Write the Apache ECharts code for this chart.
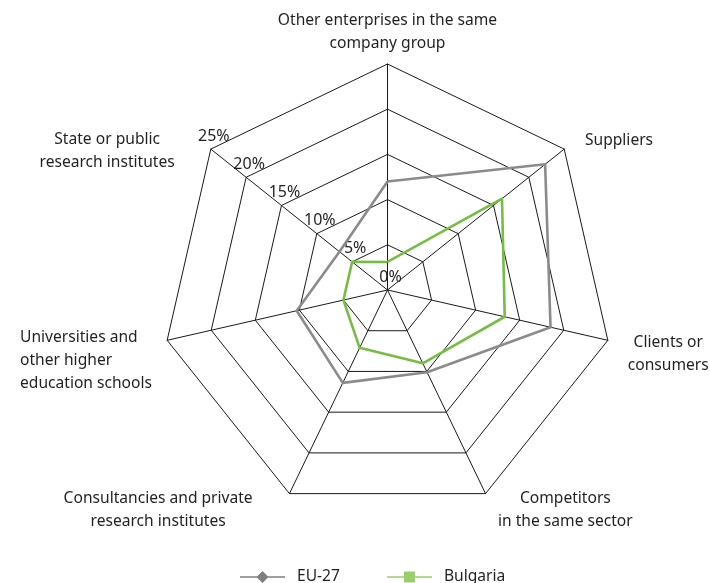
<!DOCTYPE html>
<html><head><meta charset="utf-8">
<script src="https://cdn.jsdelivr.net/npm/echarts@6/dist/echarts.min.js"></script>
<style>html,body{margin:0;padding:0;background:#fff}#c{width:710px;height:583px}</style>
</head><body><div id="c"></div>
<script>
// ---- data (indicators listed counter-clockwise from the top, as ECharts lays them out) ----
const categories = [
  'Other enterprises in the same\ncompany group',
  'State or public\nresearch institutes',
  'Universities and\nother higher\neducation schools',
  'Consultancies and private\nresearch institutes',
  'Competitors\nin the same sector',
  'Clients or\nconsumers',
  'Suppliers'
];
const eu27Values = [12.0, 6.8, 10.3, 11.4, 10.1, 18.5, 22.3];
const bulgariaValues = [3.1, 5.0, 5.0, 7.1, 9.0, 13.3, 16.2];
const seriesNames = ['EU-27', 'Bulgaria'];
const axisMin = 0;
const axisMax = 25;
const tickStep = 5;

// ---- layout / style ----
const FONT = 'Noto Sans';
const FS = 15.6;
const TEXT = '#231f20';
const nameLayout = [
  { gap: 9,   align: 'center', verticalAlign: 'bottom', padding: [0, 0, 0, 0] },
  { gap: -3,  align: 'center', verticalAlign: 'middle', padding: [0, 212, 0, 0] },
  { gap: 93,  align: 'left',   verticalAlign: 'middle', padding: [0, 0, 0, -56.5] },
  { gap: 18,  align: 'center', verticalAlign: 'middle', padding: [0, 247, 0, 0] },
  { gap: 18,  align: 'center', verticalAlign: 'middle', padding: [0, 0, 0, 144] },
  { gap: 62,  align: 'center', verticalAlign: 'middle', padding: [0, 0, 0, 0] },
  { gap: 13,  align: 'left',   verticalAlign: 'middle', padding: [0, 0, 0, 10.6] }
];
const labelAxisIndex = 1; // State or public research institutes

const indicator = categories.map((name, i) => {
  const o = {
    name: name,
    min: axisMin,
    max: axisMax,
    nameGap: nameLayout[i].gap,
    nameMoveOverlap: false,
    nameTextStyle: {
      align: nameLayout[i].align,
      verticalAlign: nameLayout[i].verticalAlign,
      padding: nameLayout[i].padding,
      fontFamily: FONT, fontSize: FS, lineHeight: 23, color: TEXT
    }
  };
  if (i === labelAxisIndex) {
    o.axisLabel = {
      show: true, margin: 0, align: 'center', verticalAlign: 'bottom',
      padding: [0, 0, 5, 6], formatter: '{value}%',
      fontFamily: FONT, fontSize: 16, color: TEXT
    };
  }
  return o;
});

const colors = { eu: '#8b8b8d', bg: '#76bd43', euLegend: '#7f7f81', bgLegend: '#98cf6a' };
const iconEU = 'path://M0,5.3 L45,5.3 L45,6.7 L0,6.7 Z M22.5,0 L28.5,6 L22.5,12 L16.5,6 Z';
const iconBG = 'path://M0,5.3 L45,5.3 L45,6.7 L0,6.7 Z M17,0.5 L28,0.5 L28,11.5 L17,11.5 Z';

const chart = echarts.init(document.getElementById('c'), null, { renderer: 'canvas' });
chart.setOption({
  animation: false,
  backgroundColor: '#fff',
  textStyle: { fontFamily: FONT },
  legend: {
    left: 240, top: 569, padding: 0,
    itemWidth: 45, itemHeight: 12, itemGap: 47,
    textStyle: { fontFamily: FONT, fontSize: FS, color: TEXT, padding: [0, 0, 0, 7] },
    data: [
      { name: seriesNames[0], icon: iconEU, itemStyle: { color: colors.euLegend } },
      { name: seriesNames[1], icon: iconBG, itemStyle: { color: colors.bgLegend } }
    ]
  },
  radar: {
    center: [387.5, 290],
    radius: 226,
    startAngle: 90,
    shape: 'polygon',
    splitNumber: (axisMax - axisMin) / tickStep,
    indicator: indicator,
    axisName: { color: TEXT, fontFamily: FONT, fontSize: FS },
    axisLine: { lineStyle: { color: '#1a1a1a', width: 1 } },
    splitLine: { lineStyle: { color: '#1a1a1a', width: 1 } },
    splitArea: { show: false },
    axisTick: { show: false },
    axisLabel: { show: false }
  },
  series: [{
    type: 'radar',
    symbol: 'none',
    data: [
      { name: seriesNames[0], value: eu27Values,
        itemStyle: { color: colors.eu }, lineStyle: { color: colors.eu, width: 2.6 } },
      { name: seriesNames[1], value: bulgariaValues,
        itemStyle: { color: colors.bg }, lineStyle: { color: colors.bg, width: 2.6 } }
    ]
  }]
});
</script>
</body></html>
